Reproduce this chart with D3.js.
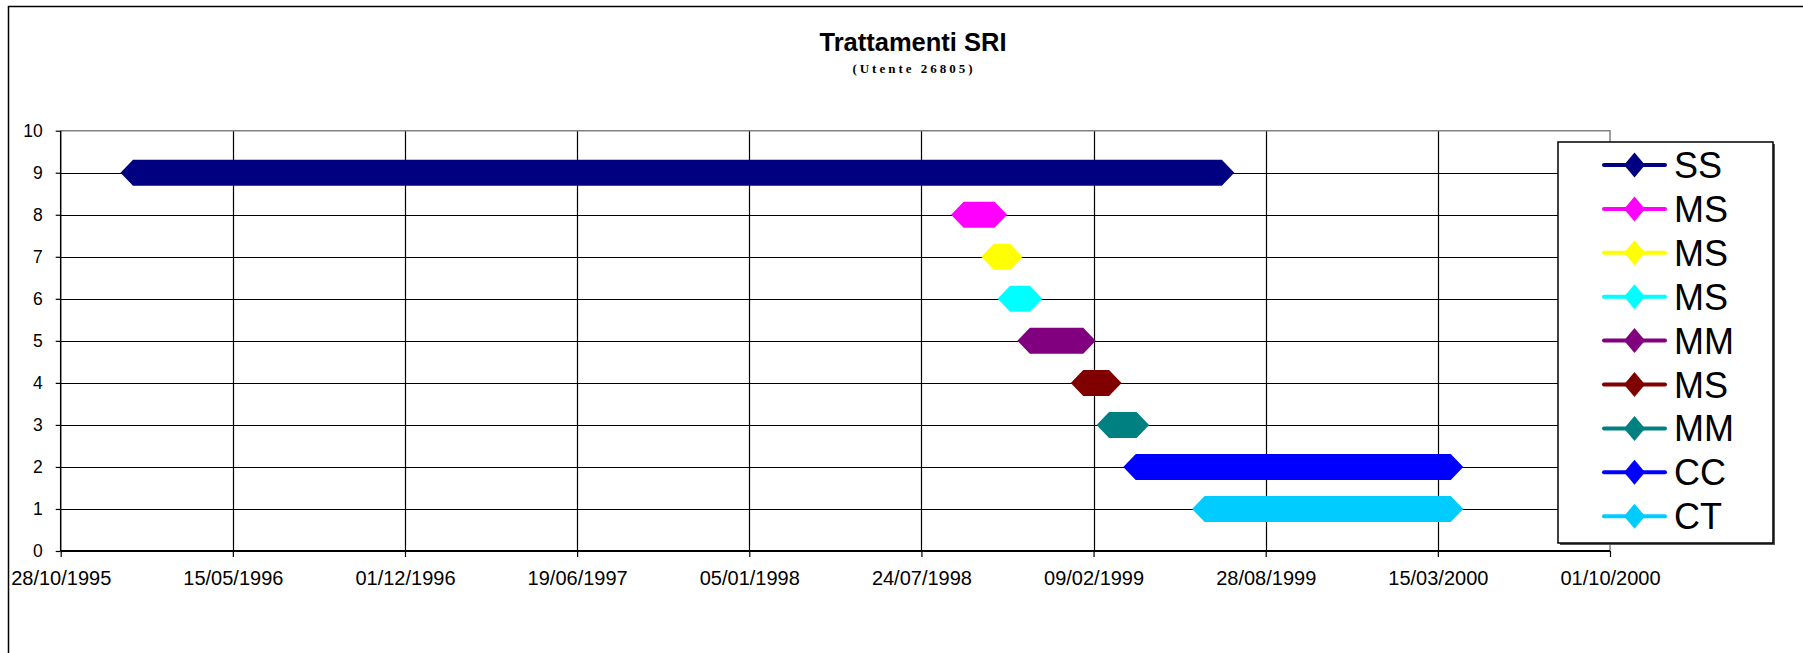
<!DOCTYPE html>
<html>
<head>
<meta charset="utf-8">
<script src="https://cdn.jsdelivr.net/npm/d3@7"></script>
<style>
  html, body { margin: 0; padding: 0; background: #fff; }
  svg { display: block; }
</style>
</head>
<body>
<svg id="chart" width="1803" height="653"></svg>
<script>
// ---- data ----
const titleText = "Trattamenti SRI";
const subtitleText = "(Utente 26805)";
const seriesNames = ["SS", "MS", "MS", "MS", "MM", "MS", "MM", "CC", "CT"];
const seriesValues = [9, 8, 7, 6, 5, 4, 3, 2, 1];
const startDates = ["20/01/1996", "11/09/1998", "16/10/1998", "04/11/1998", "27/11/1998", "28/01/1999", "27/02/1999", "30/03/1999", "18/06/1999"];
const endDates   = ["08/07/1999", "17/10/1998", "04/11/1998", "27/11/1998", "28/01/1999", "27/02/1999", "31/03/1999", "30/03/2000", "30/03/2000"];
const seriesColors = ["#000080", "#FF00FF", "#FFFF00", "#00FFFF", "#800080", "#800000", "#008080", "#0000FF", "#00CCFF"];
const xTickLabels = ["28/10/1995", "15/05/1996", "01/12/1996", "19/06/1997", "05/01/1998", "24/07/1998", "09/02/1999", "28/08/1999", "15/03/2000", "01/10/2000"];
const yTicks = [0, 1, 2, 3, 4, 5, 6, 7, 8, 9, 10];

// ---- helpers ----
const parse = d3.utcParse("%d/%m/%Y");
const xTickDates = xTickLabels.map(parse);

const svg = d3.select("#chart");
const font = "'Liberation Sans', Arial, sans-serif";

const plot = { left: 60.7, right: 1610, top: 130.7, bottom: 551 };

const x = d3.scaleUtc()
  .domain([xTickDates[0], xTickDates[xTickDates.length - 1]])
  .range([plot.left, plot.right]);
const y = d3.scaleLinear().domain([0, 10]).range([plot.bottom, plot.top]);

// outer chart border
svg.append("rect")
  .attr("x", 8.5).attr("y", 6.5)
  .attr("width", 1803).attr("height", 700)
  .attr("fill", "#fff").attr("stroke", "#000").attr("stroke-width", 1.5);

// title
svg.append("text")
  .attr("x", 913).attr("y", 50.5)
  .attr("text-anchor", "middle")
  .style("font-family", font).style("font-weight", "bold").style("font-size", "25.5px")
  .text(titleText);
svg.append("text")
  .attr("x", 914).attr("y", 73)
  .attr("text-anchor", "middle")
  .style("font-family", "'Liberation Serif', 'Times New Roman', serif")
  .style("font-weight", "bold").style("font-size", "13px")
  .style("letter-spacing", "3px")
  .text(subtitleText);

// gridlines
const grid = svg.append("g");
grid.selectAll("line.h").data(yTicks.filter(v => v > 0 && v < 10)).join("line")
  .attr("x1", plot.left).attr("x2", plot.right)
  .attr("y1", d => Math.round(y(d)) + 0.5).attr("y2", d => Math.round(y(d)) + 0.5)
  .attr("stroke", "#000").attr("stroke-width", 1.2);
grid.selectAll("line.v").data(xTickDates.slice(1, -1)).join("line")
  .attr("x1", d => Math.round(x(d)) + 0.5).attr("x2", d => Math.round(x(d)) + 0.5)
  .attr("y1", plot.top).attr("y2", plot.bottom)
  .attr("stroke", "#000").attr("stroke-width", 1.2);

// plot frame top & right (gray)
svg.append("path")
  .attr("d", `M${plot.left},${plot.top} H${plot.right} V${plot.bottom}`)
  .attr("fill", "none").attr("stroke", "#808080").attr("stroke-width", 1.5);

// series as dense marker bands (diamond markers overlapping)
const hw = 12.5, hh = 13;
const band = d3.line();
const seriesG = svg.append("g");
seriesNames.forEach((name, i) => {
  const x0 = x(parse(startDates[i]));
  const x1 = x(parse(endDates[i]));
  const yc = y(seriesValues[i]);
  const pts = [[x0 - hw, yc], [x0, yc - hh], [x1, yc - hh], [x1 + hw, yc], [x1, yc + hh], [x0, yc + hh]];
  seriesG.append("path")
    .attr("d", band(pts) + "Z")
    .attr("fill", seriesColors[i]);
});

// y axis
const yAxis = svg.append("g").attr("transform", `translate(${plot.left},0)`)
  .call(d3.axisLeft(y).tickValues(yTicks).tickSize(5).tickPadding(13).tickFormat(d3.format("d")));
yAxis.select(".domain").attr("stroke", "#000").attr("stroke-width", 1.5)
  .attr("d", `M0,${plot.top}V${plot.bottom}`);
yAxis.selectAll(".tick line").attr("stroke", "#000").attr("stroke-width", 1.2);
yAxis.selectAll(".tick text").style("font-family", font).style("font-size", "17.5px").attr("fill", "#000");

// x axis
const xAxis = svg.append("g").attr("transform", `translate(0,${plot.bottom})`)
  .call(d3.axisBottom(x).tickValues(xTickDates).tickSize(6).tickPadding(14)
    .tickFormat((d, i) => xTickLabels[i]));
xAxis.select(".domain").attr("stroke", "#000").attr("stroke-width", 2)
  .attr("d", `M${plot.left},0H${plot.right}`);
xAxis.selectAll(".tick line").attr("stroke", "#000").attr("stroke-width", 1.2);
xAxis.selectAll(".tick text").style("font-family", font).style("font-size", "20px").attr("fill", "#000");

// legend
const lg = { x: 1558, y: 142, w: 215, h: 401 };
svg.append("rect")
  .attr("x", lg.x + 2).attr("y", lg.y + 2).attr("width", lg.w).attr("height", lg.h)
  .attr("fill", "#555");
svg.append("rect")
  .attr("x", lg.x).attr("y", lg.y).attr("width", lg.w).attr("height", lg.h)
  .attr("fill", "#fff").attr("stroke", "#000").attr("stroke-width", 1.5);
const items = svg.append("g").selectAll("g").data(seriesNames).join("g")
  .attr("transform", (d, i) => `translate(0,${165 + i * 43.9})`);
items.append("line")
  .attr("x1", 1604).attr("x2", 1665).attr("y1", 0).attr("y2", 0)
  .attr("stroke", (d, i) => seriesColors[i]).attr("stroke-width", 4).attr("stroke-linecap", "round");
items.append("path")
  .attr("d", "M1624,0 L1634.5,-12.5 L1645,0 L1634.5,12.5 Z")
  .attr("fill", (d, i) => seriesColors[i]);
items.append("text")
  .attr("x", 1674).attr("y", 13)
  .style("font-family", font).style("font-size", "36px").attr("fill", "#000")
  .text(d => d);
</script>
</body>
</html>
